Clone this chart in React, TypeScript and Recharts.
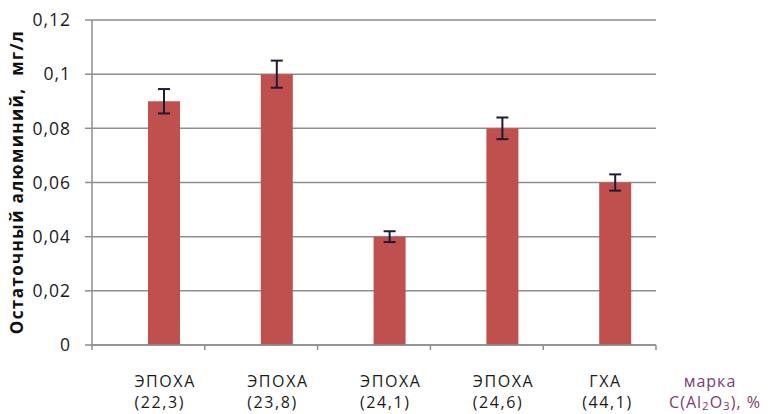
import React from 'react';
import { BarChart, Bar, XAxis, YAxis, CartesianGrid, ErrorBar, Label } from 'recharts';

const brands = ['ЭПОХА', 'ЭПОХА', 'ЭПОХА', 'ЭПОХА', 'ГХА'];
const alumina = ['(22,3)', '(23,8)', '(24,1)', '(24,6)', '(44,1)'];
const residualAl = [0.09, 0.1, 0.04, 0.08, 0.06];
const errors = [0.0045, 0.005, 0.002, 0.004, 0.003];
const yTicks = [0, 0.02, 0.04, 0.06, 0.08, 0.1, 0.12];

const data = brands.map((brand, i) => ({
  name: `${brand} ${alumina[i]}`,
  brand,
  alumina: alumina[i],
  empty: null,
  value: residualAl[i],
  err: errors[i],
}));

const W = 770;
const H = 414;
const margin = { top: 20, right: 114, left: 0, bottom: 0 };
const yAxisW = 92;
const xAxisH = 69;
const plotW = W - margin.left - margin.right - yAxisW;
const band = plotW / data.length;

const FONT = '"Open Sans", "Noto Sans", sans-serif';
const GRID = '#8e8e8e';
const TEXT = '#1a1a1a';

const fmt = (v: number) => (v === 0 ? '0' : String(v).replace('.', ','));

const XTick = (props: any) => {
  const { x, y, index, payload } = props;
  const row = data[index] ?? data.find((d) => d.name === payload.value);
  const last = index === data.length - 1;
  const left = x - band / 2;
  return (
    <g fontSize={16} fontFamily={FONT} fill={TEXT} letterSpacing={1.6}>
      <line x1={left} y1={y} x2={left} y2={y + 5} stroke={GRID} strokeWidth={1.5} />
      {last && <line x1={x + band / 2} y1={y} x2={x + band / 2} y2={y + 5} stroke={GRID} strokeWidth={1.5} />}
      <text x={last ? x + 6 : x - 14} y={y + 42} textAnchor={last ? 'middle' : 'start'}>
        {row.brand}
      </text>
      <text x={last ? x + 8 : x - 14} y={y + 63} textAnchor={last ? 'middle' : 'start'}>
        {row.alumina}
      </text>
    </g>
  );
};

const UnitLabel = (props: any) => {
  const { viewBox } = props;
  const cx = viewBox.x + viewBox.width + 58;
  const y = viewBox.y;
  return (
    <g fontFamily={FONT} fontSize={16} fill="#7a3a73" letterSpacing={1}>
      <text x={cx - 4} y={y + 42} textAnchor="middle">
        марка
      </text>
      <text x={cx + 1} y={y + 63} textAnchor="middle">
        C(Al
        <tspan fontSize={11.5} dy={2}>2</tspan>
        <tspan dy={-2}>O</tspan>
        <tspan fontSize={11.5} dy={2}>3</tspan>
        <tspan dy={-2}>), %</tspan>
      </text>
    </g>
  );
};

const YTitle = () => (
  <text
    x={23}
    y={182}
    transform="rotate(-90 23 182)"
    textAnchor="middle"
    fontSize={17}
    fontWeight="bold"
    fontFamily={FONT}
    fill="#111"
    letterSpacing={1.4}
    style={{ whiteSpace: 'pre' }}
  >
    Остаточный алюминий,  мг/л
  </text>
);

export default function App() {
  return (
    <div style={{ position: 'absolute', left: 0, top: 0, background: '#fff' }}>
      <BarChart
        width={W}
        height={H}
        data={data}
        margin={margin}
        barSize={32}
        barGap={0}
      >
        <CartesianGrid vertical={false} stroke={GRID} strokeWidth={1.5} />
        <XAxis
          dataKey="name"
          height={xAxisH}
          interval={0}
          axisLine={{ stroke: GRID, strokeWidth: 1.5 }}
          tickLine={false}
          tickSize={0}
          tickMargin={0}
          tick={<XTick />}
        >
          <Label content={<UnitLabel />} />
        </XAxis>
        <YAxis
          width={yAxisW}
          domain={[0, 0.12]}
          ticks={yTicks}
          tickFormatter={fmt}
          axisLine={{ stroke: GRID, strokeWidth: 1.5 }}
          tickLine={{ stroke: GRID, strokeWidth: 1.5 }}
          tickSize={7}
          tickMargin={14}
          tick={{ fontSize: 17.5, fontFamily: FONT, fill: TEXT, letterSpacing: 1 }}
        >
          <Label content={<YTitle />} />
        </YAxis>
        <Bar dataKey="empty" fill="#4f81bd" isAnimationActive={false} />
        <Bar dataKey="value" fill="#c0504d" isAnimationActive={false}>
          <ErrorBar dataKey="err" width={6} stroke="#1c1c38" strokeWidth={2} />
        </Bar>
      </BarChart>
    </div>
  );
}
